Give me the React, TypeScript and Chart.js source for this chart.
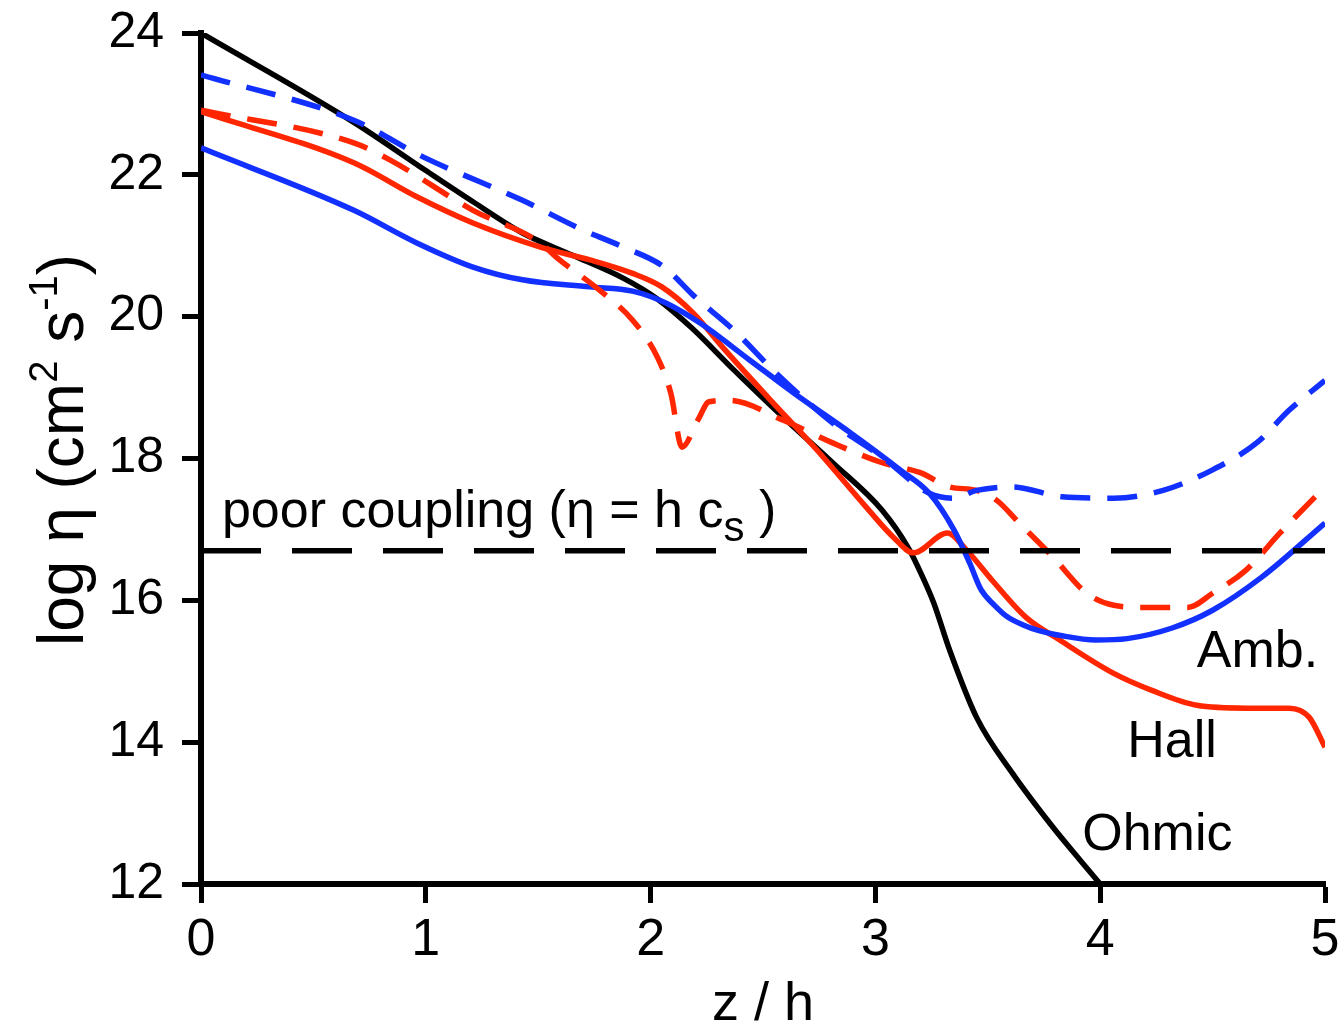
import React, { useEffect, useRef } from "react";
import { Chart, registerables } from "chart.js";

Chart.register(...registerables);

const FONT = '"Liberation Sans", Arial, Helvetica, sans-serif';
const BLUE = "rgb(18, 48, 255)";
const RED = "rgb(255, 38, 0)";

// Ohmic diffusivity (single model, solid black)
const ohmicZ = [0, 0.68, 1.0, 1.21, 1.43, 1.65, 1.88, 2.03, 2.18, 2.37, 2.59, 2.81, 3.03, 3.15, 3.21, 3.26, 3.33, 3.45, 3.61, 3.79, 3.91, 4.0];
const ohmicEta = [24.0, 22.74, 22.06, 21.62, 21.18, 20.87, 20.54, 20.25, 19.85, 19.25, 18.58, 17.94, 17.27, 16.72, 16.33, 15.96, 15.3, 14.35, 13.56, 12.8, 12.34, 12.0];

// Ambipolar diffusivity, solid and dashed
const ambZ = [0, 0.68, 0.96, 1.21, 1.43, 1.73, 1.92, 2.07, 2.22, 2.44, 2.66, 2.89, 3.11, 3.24, 3.35, 3.42, 3.47, 3.53, 3.59, 3.66, 3.72, 3.83, 3.98, 4.12, 4.32, 4.5, 4.72, 5.0];
const ambEta = [22.38, 21.5, 21.04, 20.7, 20.52, 20.42, 20.36, 20.19, 19.91, 19.39, 18.87, 18.36, 17.84, 17.51, 16.99, 16.52, 16.15, 15.93, 15.76, 15.65, 15.58, 15.5, 15.44, 15.46, 15.61, 15.86, 16.33, 17.09];

const ambDashedZ = [0, 0.68, 0.99, 1.43, 1.7, 1.88, 2.06, 2.19, 2.37, 2.56, 2.81, 3.03, 3.24, 3.35, 3.45, 3.61, 3.83, 4.06, 4.28, 4.5, 4.7, 4.84, 5.0];
const ambDashedEta = [23.41, 22.77, 22.25, 21.64, 21.22, 20.98, 20.7, 20.3, 19.81, 19.2, 18.5, 18.02, 17.51, 17.44, 17.55, 17.6, 17.46, 17.44, 17.55, 17.84, 18.23, 18.68, 19.1];

// Hall diffusivity, solid and dashed
const hallZ = [0, 0.68, 0.96, 1.21, 1.51, 1.73, 1.92, 2.05, 2.19, 2.32, 2.52, 2.74, 2.96, 3.08, 3.17, 3.32, 3.4, 3.52, 3.67, 3.82, 4.06, 4.23, 4.43, 4.65, 4.84, 4.93, 5.0];
const hallEta = [22.89, 22.17, 21.69, 21.32, 20.98, 20.8, 20.61, 20.42, 20.05, 19.57, 18.87, 18.12, 17.31, 16.89, 16.67, 16.95, 16.73, 16.28, 15.76, 15.44, 14.97, 14.73, 14.52, 14.48, 14.48, 14.35, 13.93];

const hallDashedZ = [0, 0.68, 0.84, 1.21, 1.51, 1.58, 1.77, 1.92, 2.03, 2.09, 2.14, 2.21, 2.26, 2.35, 2.59, 2.81, 3.03, 3.2, 3.33, 3.45, 3.54, 3.64, 3.79, 3.94, 4.06, 4.21, 4.39, 4.5, 4.65, 4.8, 5.0];
const hallDashedEta = [22.91, 22.45, 22.21, 21.5, 21.04, 20.84, 20.38, 19.95, 19.43, 18.92, 18.16, 18.54, 18.8, 18.82, 18.54, 18.22, 17.94, 17.8, 17.6, 17.55, 17.41, 17.09, 16.61, 16.1, 15.93, 15.9, 15.9, 16.1, 16.43, 16.95, 17.6];

// Poor-coupling threshold eta = h c_s
const limitZ = [0, 5];
const limitEta = [16.7, 16.7];

// Curve names, placed in data coordinates (left edge, baseline)
const curveNames = ["Amb.", "Hall", "Ohmic"];
const curveNameZ = [4.43, 4.12, 3.92];
const curveNameEta = [15.06, 13.79, 12.48];

const pts = (xs: number[], ys: number[]) => xs.map((x, i) => ({ x, y: ys[i] }));

type Run = { text: string; size: number; dy: number };

function drawRuns(ctx: CanvasRenderingContext2D, x0: number, base: number, runs: Run[], center = false) {
  let total = 0;
  const widths = runs.map((r) => {
    ctx.font = `${r.size}px ${FONT}`;
    const w = ctx.measureText(r.text).width;
    total += w;
    return w;
  });
  let x = center ? x0 - total / 2 : x0;
  runs.forEach((r, i) => {
    ctx.font = `${r.size}px ${FONT}`;
    ctx.fillText(r.text, x, base + r.dy);
    x += widths[i];
  });
}

const textPlugin = {
  id: "etaText",
  afterDraw(chart: any) {
    const { ctx, scales } = chart;
    const xs = scales.x;
    const ys = scales.y;
    ctx.save();
    ctx.fillStyle = "#000";
    ctx.textAlign = "left";
    ctx.textBaseline = "alphabetic";

    ctx.font = `52px ${FONT}`;
    curveNames.forEach((t, i) => {
      ctx.fillText(t, xs.getPixelForValue(curveNameZ[i]), ys.getPixelForValue(curveNameEta[i]));
    });

    drawRuns(ctx, xs.getPixelForValue(0.093), ys.getPixelForValue(17.03), [
      { text: "poor coupling (\u03b7 = h c", size: 52, dy: 0 },
      { text: "s", size: 42, dy: 14 },
      { text: " )", size: 52, dy: 0 },
    ]);

    // x axis title
    drawRuns(ctx, (xs.left + xs.right) / 2, 1020, [{ text: "z / h", size: 54, dy: 0 }], true);

    // y axis title, rotated
    ctx.translate(83, 450);
    ctx.rotate(-Math.PI / 2);
    drawRuns(
      ctx,
      0,
      0,
      [
        { text: "log \u03b7 (cm", size: 64, dy: 0 },
        { text: "2", size: 40, dy: -26 },
        { text: " s", size: 64, dy: 0 },
        { text: "-1", size: 40, dy: -26 },
        { text: ")", size: 64, dy: 0 },
      ],
      true
    );
    ctx.restore();
  },
};

export default function App() {
  const canvasRef = useRef<HTMLCanvasElement | null>(null);

  useEffect(() => {
    document.body.style.margin = "0";
    const canvas = canvasRef.current;
    if (!canvas) return;

    const line = (data: { x: number; y: number }[], color: string, dash: number[] = []) => ({
      data,
      borderColor: color,
      backgroundColor: color,
      borderWidth: 5.5,
      borderDash: dash,
      borderCapStyle: "butt" as const,
      pointRadius: 0,
      fill: false,
      cubicInterpolationMode: "monotone" as const,
    });

    const chart = new Chart(canvas, {
      type: "line",
      data: {
        datasets: [
          { ...line(pts(limitZ, limitEta), "#000", [60, 31]), label: "poor coupling" },
          { ...line(pts(ambDashedZ, ambDashedEta), BLUE, [30, 17]), label: "Amb. (dashed)" },
          { ...line(pts(hallDashedZ, hallDashedEta), RED, [30, 17]), label: "Hall (dashed)" },
          { ...line(pts(ambZ, ambEta), BLUE), label: "Amb." },
          { ...line(pts(hallZ, hallEta), RED), label: "Hall" },
          { ...line(pts(ohmicZ, ohmicEta), "#000"), label: "Ohmic" },
        ],
      },
      options: {
        responsive: false,
        animation: false,
        events: [],
        layout: { padding: { left: 0, right: 17, top: 33, bottom: 0 } },
        plugins: { legend: { display: false }, tooltip: { enabled: false }, title: { display: false } },
        scales: {
          x: {
            type: "linear",
            min: 0,
            max: 5,
            ticks: { stepSize: 1, color: "#000", font: { family: FONT, size: 52 }, padding: 6, maxRotation: 0 },
            grid: { drawOnChartArea: false, drawTicks: true, tickLength: 19, tickWidth: 5, tickColor: "#000" },
            border: { display: true, color: "#000", width: 6 },
            afterFit: (s: any) => {
              s.height = 142;
              s.paddingLeft = 0;
              s.paddingRight = 0;
            },
          },
          y: {
            type: "linear",
            min: 12,
            max: 24,
            ticks: { stepSize: 2, color: "#000", font: { family: FONT, size: 50 }, padding: 18 },
            grid: { drawOnChartArea: false, drawTicks: true, tickLength: 19, tickWidth: 5, tickColor: "#000" },
            border: { display: true, color: "#000", width: 6 },
            afterFit: (s: any) => {
              s.width = 201;
              s.paddingTop = 0;
              s.paddingBottom = 0;
            },
          },
        },
      },
      plugins: [textPlugin],
    });

    return () => chart.destroy();
  }, []);

  return (
    <div style={{ width: 1342, height: 1026 }}>
      <canvas ref={canvasRef} width={1342} height={1026} style={{ display: "block" }} />
    </div>
  );
}
